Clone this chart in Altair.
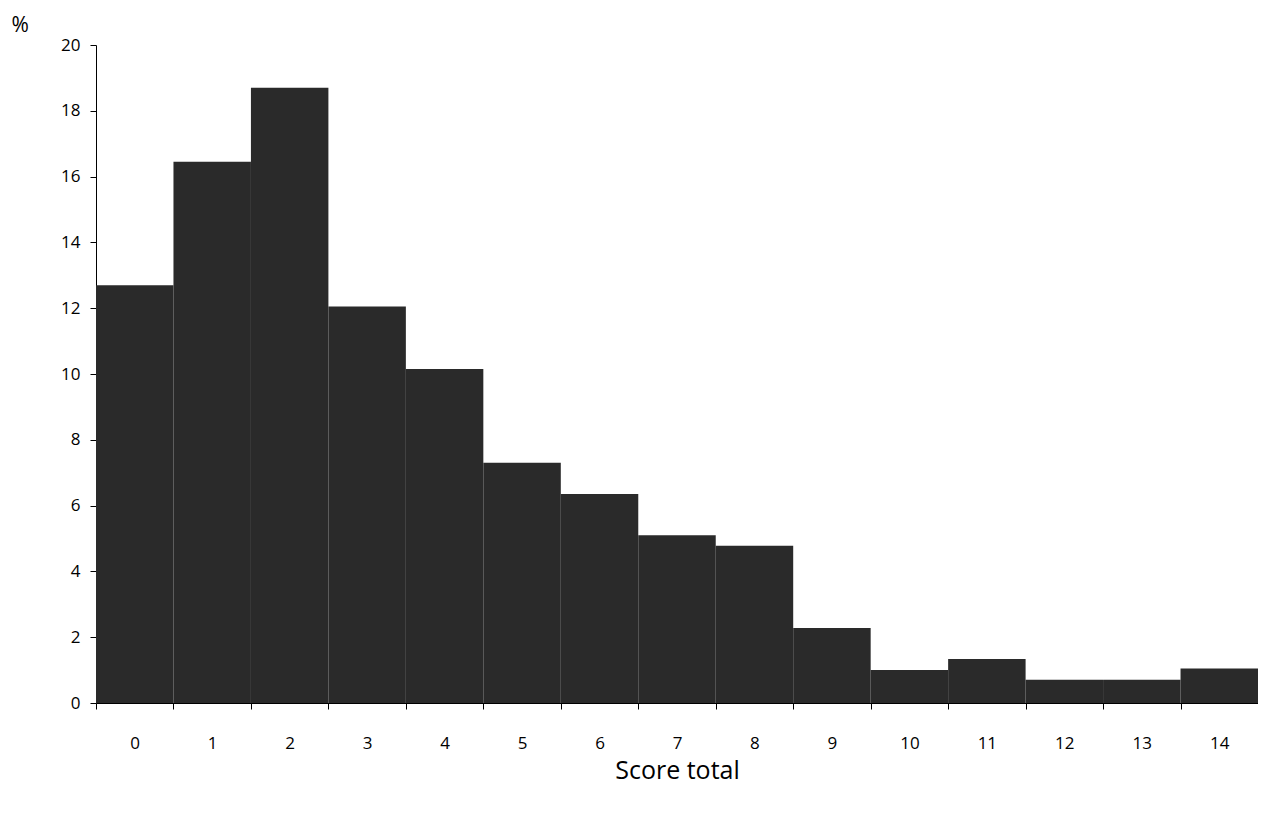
import altair as alt
import pandas as pd

scores = [str(i) for i in range(15)]
percent = [12.7, 16.45, 18.7, 12.05, 10.15, 7.3, 6.35, 5.1, 4.78, 2.28, 1.0, 1.34, 0.71, 0.71, 1.05]
y_ticks = list(range(0, 21, 2))

df = pd.DataFrame({"score": scores, "pct": percent})

FONT = "Open Sans"

chart = alt.Chart(df).mark_bar(color="#2a2a2a").encode(
    x=alt.X(
        "score:O",
        sort=scores,
        scale=alt.Scale(paddingInner=0, paddingOuter=0),
        axis=alt.Axis(
            title="Score total",
            titleFontSize=25,
            titleFontWeight="normal",
            titleFont=FONT,
            titlePadding=7,
            titleColor="black",
            labelAngle=0,
            labelFontSize=17,
            labelFont=FONT,
            labelColor="black",
            labelPadding=26,
            tickBand="extent",
            tickSize=6,
            tickColor="black",
            domainColor="black",
            grid=False,
        ),
    ),
    y=alt.Y(
        "pct:Q",
        scale=alt.Scale(domain=[0, 20], nice=False),
        axis=alt.Axis(
            values=y_ticks,
            title="%",
            titleAngle=0,
            titleAlign="left",
            titleBaseline="middle",
            titleX=-85,
            titleY=-20,
            titleFontSize=21,
            titleFontWeight="normal",
            titleFont=FONT,
            titleColor="black",
            labelFontSize=17,
            labelFont=FONT,
            labelColor="black",
            labelPadding=10,
            tickSize=6,
            tickColor="black",
            domainColor="black",
            grid=False,
        ),
    ),
).properties(
    width=1162,
    height=658,
    background="white",
    autosize=alt.AutoSizeParams(type="none"),
    padding={"left": 88, "top": 37, "right": 0, "bottom": 100},
).configure_view(stroke=None)

chart.save("out.html", embed_options={"renderer": "svg", "actions": False})
